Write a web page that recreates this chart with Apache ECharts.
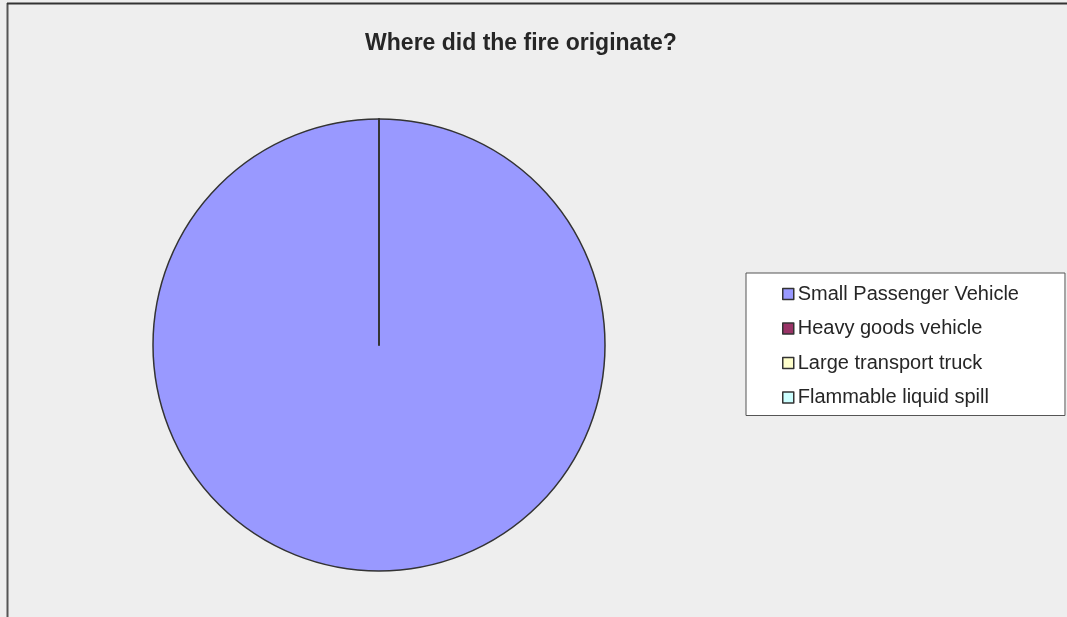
<!DOCTYPE html>
<html>
<head>
<meta charset="utf-8">
<script src="https://cdn.jsdelivr.net/npm/echarts@6/dist/echarts.min.js"></script>
<style>
  html, body { margin: 0; padding: 0; background: #EEEEEE; }
  #chart { width: 1067px; height: 617px; }
</style>
</head>
<body>
<div id="chart"></div>
<script>
// Origin of the fire, by vehicle / source
const categories = ['Small Passenger Vehicle', 'Heavy goods vehicle', 'Large transport truck', 'Flammable liquid spill'];
const counts = [1, 0, 0, 0];
const colors = ['#9999FF', '#993366', '#FFFFCC', '#CCFFFF'];
const chartTitle = 'Where did the fire originate?';

const chart = echarts.init(document.getElementById('chart'), null, { renderer: 'canvas' });

chart.setOption({
  backgroundColor: '#EEEEEE',
  animation: false,
  title: {
    text: chartTitle,
    left: 521,
    top: 32,
    textAlign: 'center',
    padding: 0,
    textStyle: { fontFamily: 'Liberation Sans, Arial, sans-serif', fontSize: 23, fontWeight: 'bold', color: '#262626' }
  },
  legend: {
    orient: 'vertical',
    left: 746,
    top: 273,
    padding: [10, 46, 7, 36],
    itemGap: 12.5,
    itemWidth: 11,
    itemHeight: 11,
    icon: 'rect',
    backgroundColor: '#FFFFFF',
    borderColor: '#555555',
    borderWidth: 1,
    borderRadius: 0,
    selectedMode: false,
    textStyle: { fontFamily: 'Liberation Sans, Arial, sans-serif', fontSize: 20, lineHeight: 22, color: '#262626', padding: [0, 0, 0, -1] },
    itemStyle: { borderColor: '#333333', borderWidth: 1.5 },
    data: categories
  },
  graphic: [
    { type: 'line', shape: { x1: 7.5, y1: 3, x2: 7.5, y2: 617 }, style: { stroke: '#555555', lineWidth: 2 } },
    { type: 'line', shape: { x1: 7, y1: 3.5, x2: 1067, y2: 3.5 }, style: { stroke: '#333333', lineWidth: 2 } }
  ],
  series: [{
    type: 'pie',
    center: [379, 345],
    radius: 226,
    startAngle: 90,
    clockwise: true,
    label: { show: false },
    labelLine: { show: false },
    emphasis: { disabled: true },
    itemStyle: { borderColor: '#333333', borderWidth: 1.5 },
    data: categories.map((name, i) => ({ name, value: counts[i], itemStyle: { color: colors[i] } }))
  }]
});
</script>
</body>
</html>
